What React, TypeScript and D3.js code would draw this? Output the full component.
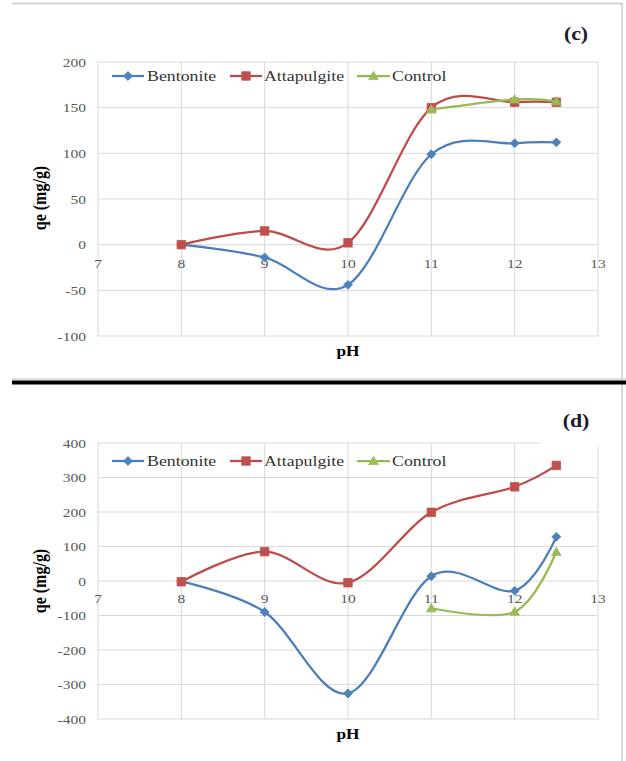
import React from "react";
import * as d3 from "d3";

// ---------- data ----------
const pHValues = [8, 9, 10, 11, 12, 12.5];
const pHControl = [11, 12, 12.5];

const cBentonite = [0, -14, -44, 99, 111, 112];
const cAttapulgite = [0, 15, 2, 150, 156, 156];
const cControl = [148, 159, 157];

const dBentonite = [-2, -90, -326, 14, -28, 128];
const dAttapulgite = [-2, 85, -5, 199, 273, 335];
const dControl = [-79, -89, 84];

const xTicks = [7, 8, 9, 10, 11, 12, 13];
const cYTicks = [-100, -50, 0, 50, 100, 150, 200];
const dYTicks = [-400, -300, -200, -100, 0, 100, 200, 300, 400];

const seriesNames = ["Bentonite", "Attapulgite", "Control"];

// ---------- style ----------
const W = 626;
const H = 761;
const SX = 1.15;
const FONT = "'Liberation Serif', 'Times New Roman', serif";
const GRID = "#d9d9d9";
const TICK = "#595959";
const COLORS = { Bentonite: "#4A7EBB", Attapulgite: "#BE4B48", Control: "#98B954" };
const MARK = { Bentonite: "#4F81BD", Attapulgite: "#C0504D", Control: "#9BBB59" };

type TP = {
  x: number; y: number; anchor?: string; size: number; weight?: string | number;
  fill?: string; rotate?: number; children: React.ReactNode;
};
function T({ x, y, anchor = "start", size, weight = "normal", fill = "#000", rotate, children }: TP) {
  const tf = rotate
    ? `translate(${x},${y}) rotate(${rotate}) scale(1,${SX})`
    : `translate(${x},${y}) scale(${SX},1)`;
  return (
    <text transform={tf} textAnchor={anchor} fontSize={size} fontWeight={weight} fill={fill} fontFamily={FONT}>
      {children}
    </text>
  );
}

function marker(name: string, x: number, y: number, key?: string) {
  const c = MARK[name as keyof typeof MARK];
  if (name === "Bentonite") {
    const p = d3.symbol(d3.symbolSquare, 40)();
    return <path key={key} d={p || ""} transform={`translate(${x},${y}) rotate(45)`} fill={c} stroke={c} strokeWidth={0.8} />;
  }
  if (name === "Attapulgite") {
    const p = d3.symbol(d3.symbolSquare, 72)();
    return <path key={key} d={p || ""} transform={`translate(${x},${y})`} fill={c} stroke={c} strokeWidth={0.8} />;
  }
  const p = d3.symbol(d3.symbolTriangle, 40)();
  return <path key={key} d={p || ""} transform={`translate(${x},${y + 0.8})`} fill={c} stroke={c} strokeWidth={0.8} />;
}

type PanelProps = {
  top: number; bottom: number; domain: [number, number]; yTicks: number[];
  series: { name: string; xs: number[]; ys: number[] }[];
  letter: string; letterY: number; legendY: number; labelY: number; xLabelY: number;
  yTitleY: number; coverBox?: boolean;
};

const x = d3.scaleLinear().domain([7, 13]).range([98, 598]);

function Panel(p: PanelProps) {
  const y = d3.scaleLinear().domain(p.domain).range([p.bottom, p.top]);
  const line = d3
    .line<[number, number]>()
    .x((d) => x(d[0]))
    .y((d) => y(d[1]))
    .curve(d3.curveCardinal.tension(0));
  const legendItems = [
    { name: "Bentonite", x0: 112, x1: 144, tx: 147 },
    { name: "Attapulgite", x0: 230, x1: 262, tx: 264 },
    { name: "Control", x0: 357, x1: 390, tx: 392 },
  ];
  return (
    <g>
      {/* gridlines */}
      {p.yTicks.map((t) => (
        <line key={"h" + t} x1={x(7)} x2={x(13)} y1={y(t)} y2={y(t)} stroke={GRID} strokeWidth={1} />
      ))}
      {xTicks.map((t) => (
        <line key={"v" + t} x1={x(t)} x2={x(t)} y1={p.top} y2={p.bottom} stroke={GRID} strokeWidth={1} />
      ))}
      {p.coverBox && <rect x={540.5} y={p.top - 45} width={63} height={47.5} fill="#fff" />}
      {/* y tick labels */}
      {p.yTicks.map((t) => (
        <T key={"yl" + t} x={86} y={y(t) + 4.5} anchor="end" size={13.5} fill={TICK}>
          {String(t)}
        </T>
      ))}
      {/* x tick labels */}
      {xTicks.map((t) => (
        <T key={"xl" + t} x={x(t)} y={p.labelY} anchor="middle" size={13.5} fill={TICK}>
          {String(t)}
        </T>
      ))}
      {/* series */}
      {p.series.map((s) => {
        const pts = s.xs.map((v, i) => [v, s.ys[i]] as [number, number]);
        return (
          <g key={s.name}>
            <path d={line(pts) || ""} fill="none" stroke={COLORS[s.name as keyof typeof COLORS]} strokeWidth={2.25} />
            {pts.map((d, i) => marker(s.name, x(d[0]), y(d[1]), s.name + i))}
          </g>
        );
      })}
      {/* legend */}
      {legendItems.map((l) => (
        <g key={"lg" + l.name}>
          <line x1={l.x0} x2={l.x1} y1={p.legendY} y2={p.legendY} stroke={COLORS[l.name as keyof typeof COLORS]} strokeWidth={2.25} />
          {marker(l.name, (l.x0 + l.x1) / 2, p.legendY)}
          <T x={l.tx} y={p.legendY + 5} size={15.5} fill="#333">
            {l.name}
          </T>
        </g>
      ))}
      {/* titles */}
      <T x={348} y={p.xLabelY} anchor="middle" size={15} weight="bold">
        pH
      </T>
      <T x={46} y={p.yTitleY} anchor="middle" size={16} weight="bold" rotate={-90}>
        qe (mg/g)
      </T>
      <T x={576} y={p.letterY} anchor="middle" size={19} weight="bold" fill="#1a1a2e">
        {p.letter}
      </T>
    </g>
  );
}

export default function App() {
  return (
    <svg width={W} height={H} style={{ position: "absolute", left: 0, top: 0, background: "#fff" }}>
      <rect x={0} y={0} width={W} height={H} fill="#fff" />
      {/* frame */}
      <line x1={12} x2={622} y1={3.5} y2={3.5} stroke="#d4d4d4" strokeWidth={2} />
      <line x1={622} x2={622} y1={3} y2={H} stroke="#bdbdbd" strokeWidth={1.2} />
      <line x1={12} x2={626} y1={379} y2={379} stroke="#d4d4d4" strokeWidth={1.5} />
      <rect x={12} y={380.5} width={614} height={4} fill="#000" />

      <Panel
        top={62}
        bottom={336}
        domain={[-100, 200]}
        yTicks={cYTicks}
        series={[
          { name: seriesNames[0], xs: pHValues, ys: cBentonite },
          { name: seriesNames[1], xs: pHValues, ys: cAttapulgite },
          { name: seriesNames[2], xs: pHControl, ys: cControl },
        ]}
        letter="(c)"
        letterY={40}
        legendY={76}
        labelY={268}
        xLabelY={356}
        yTitleY={198}
      />
      <Panel
        top={443}
        bottom={719}
        domain={[-400, 400]}
        yTicks={dYTicks}
        series={[
          { name: seriesNames[0], xs: pHValues, ys: dBentonite },
          { name: seriesNames[1], xs: pHValues, ys: dAttapulgite },
          { name: seriesNames[2], xs: pHControl, ys: dControl },
        ]}
        letter="(d)"
        letterY={427}
        legendY={461}
        labelY={603}
        xLabelY={739}
        yTitleY={581}
        coverBox
      />
    </svg>
  );
}
